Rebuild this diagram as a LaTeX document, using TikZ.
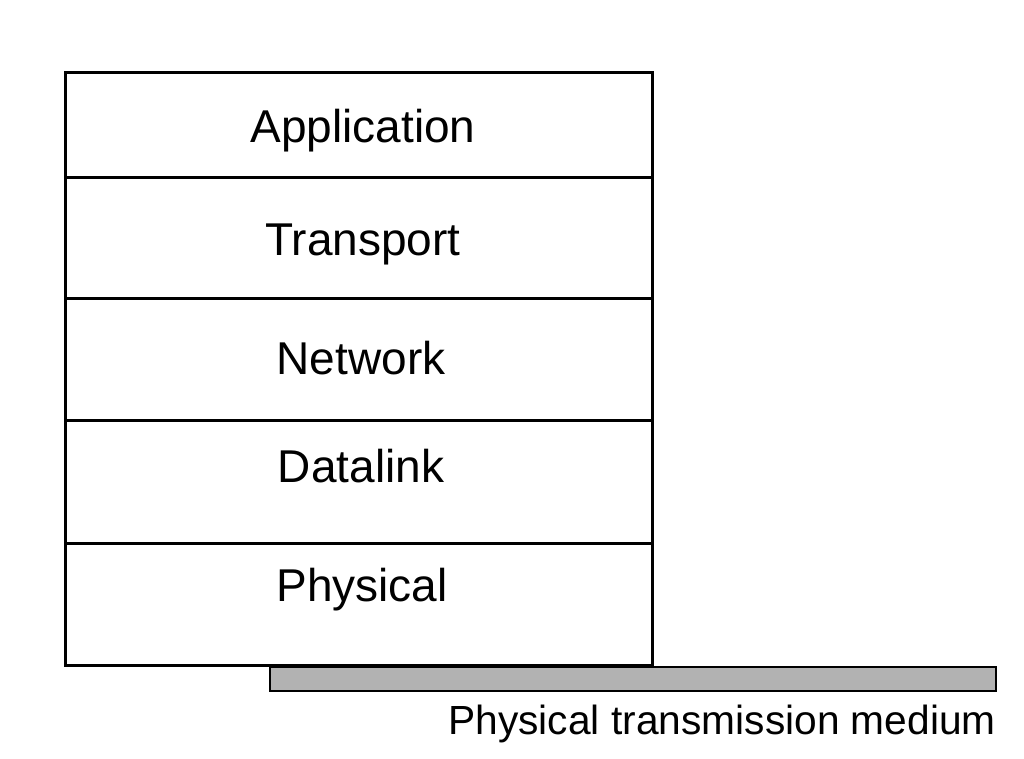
\documentclass[tikz,border=0pt]{standalone}
\usepackage{fontspec}
\setmainfont{Liberation Sans}
\begin{document}
\begin{tikzpicture}[x=1pt,y=-1pt,
  layer/.style={draw=black,line width=3pt,fill=white},
  lbl/.style={anchor=base,inner sep=0pt,font=\fontsize{46}{50}\selectfont},
  medlbl/.style={anchor=base east,inner sep=0pt,font=\fontsize{40.7}{46}\selectfont},
  medium/.style={draw=black,line width=1.8pt,fill=black!30}]
\useasboundingbox (0,0) rectangle (1024,759);
\draw[layer] (65,73) rectangle (652,178);
\draw[layer] (65,178) rectangle (652,298);
\draw[layer] (65,298) rectangle (652,420);
\draw[layer] (65,420) rectangle (652,543);
\draw[layer] (65,543) rectangle (652,665);
\node[lbl] (app) at (363,143) {Application};
\node[lbl] (tra) at (363,255) {Transport};
\node[lbl] (net) at (361,374) {Network};
\node[lbl] (dl) at (361,482) {Datalink};
\node[lbl] (phy) at (362,601) {Physical};
\draw[medium] (270,667) rectangle (996,691);
\node[medlbl] (med) at (996,734) {Physical transmission medium};
\end{tikzpicture}
\end{document}
